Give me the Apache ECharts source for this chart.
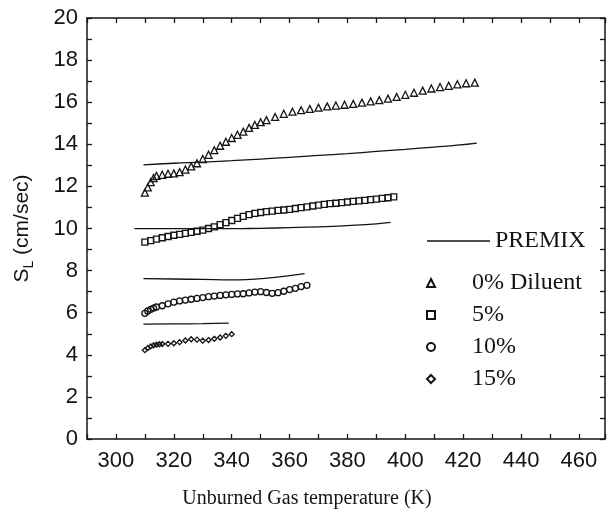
<!DOCTYPE html>
<html>
<head>
<meta charset="utf-8">
<script src="https://cdn.jsdelivr.net/npm/echarts@6/dist/echarts.min.js"></script>
<style>html,body{margin:0;padding:0;background:#fff}#c{width:608px;height:519px}</style>
</head>
<body>
<div id="c"></div>
<script>
// PREMIX (solid lines)
var premix0X = [309.5, 320, 330, 340, 350, 360, 370, 380, 390, 400, 410, 418, 424.7];
var premix0Y = [13.02, 13.1, 13.15, 13.22, 13.3, 13.38, 13.47, 13.56, 13.66, 13.76, 13.87, 13.96, 14.06];
var premix5X = [306.4, 320, 330, 340, 350, 360, 370, 380, 390, 394.9];
var premix5Y = [9.99, 9.99, 9.99, 9.99, 10.01, 10.04, 10.08, 10.14, 10.22, 10.29];
var premix10X = [309.5, 320, 330, 340, 345, 350, 355, 360, 365.2];
var premix10Y = [7.62, 7.6, 7.58, 7.56, 7.57, 7.62, 7.68, 7.76, 7.86];
var premix15X = [309.5, 320, 330, 339];
var premix15Y = [5.46, 5.47, 5.48, 5.5];

// 0% Diluent (triangles)
var d0X = [310, 311, 312, 313, 314, 316, 318, 320, 322, 324, 326, 328, 330, 332, 334, 336, 338, 340, 342, 344, 346, 348, 350, 352, 355, 358, 361, 364, 367, 370, 373, 376, 379, 382, 385, 388, 391, 394, 397, 400, 403, 406, 409, 412, 415, 418, 421, 424];
var d0Y = [11.7, 11.95, 12.2, 12.4, 12.5, 12.55, 12.6, 12.62, 12.68, 12.8, 12.95, 13.1, 13.3, 13.5, 13.72, 13.93, 14.12, 14.3, 14.45, 14.6, 14.78, 14.92, 15.05, 15.15, 15.3, 15.45, 15.55, 15.62, 15.68, 15.74, 15.8, 15.84, 15.88, 15.92, 15.98, 16.04, 16.1, 16.17, 16.25, 16.35, 16.45, 16.55, 16.65, 16.72, 16.78, 16.85, 16.9, 16.93];
// 5% (squares)
var d5X = [310, 312, 314, 316, 318, 320, 322, 324, 326, 328, 330, 332, 334, 336, 338, 340, 342, 344, 346, 348, 350, 352, 354, 356, 358, 360, 362, 364, 366, 368, 370, 372, 374, 376, 378, 380, 382, 384, 386, 388, 390, 392, 394, 396];
var d5Y = [9.35, 9.42, 9.5, 9.56, 9.62, 9.68, 9.72, 9.77, 9.82, 9.87, 9.92, 10.0, 10.08, 10.18, 10.28, 10.38, 10.48, 10.58, 10.66, 10.72, 10.76, 10.8, 10.83, 10.86, 10.88, 10.91, 10.95, 10.99, 11.03, 11.07, 11.11, 11.15, 11.18, 11.2, 11.23, 11.26, 11.29, 11.31, 11.34, 11.37, 11.4, 11.43, 11.46, 11.5];
// 10% (circles)
var d10X = [310, 311, 312, 313, 314, 316, 318, 320, 322, 324, 326, 328, 330, 332, 334, 336, 338, 340, 342, 344, 346, 348, 350, 352, 354, 356, 358, 360, 362, 364, 366];
var d10Y = [5.97, 6.08, 6.16, 6.22, 6.27, 6.33, 6.42, 6.5, 6.56, 6.6, 6.64, 6.68, 6.72, 6.76, 6.79, 6.82, 6.85, 6.87, 6.89, 6.9, 6.94, 6.98, 7.0, 6.96, 6.92, 6.95, 7.02, 7.1, 7.16, 7.24, 7.3];
// 15% (small diamonds)
var d15X = [310, 311, 312, 313, 314, 315, 316, 318, 320, 322, 324, 326, 328, 330, 332, 334, 336, 338, 340];
var d15Y = [4.22, 4.32, 4.4, 4.45, 4.48, 4.5, 4.51, 4.52, 4.55, 4.6, 4.68, 4.74, 4.72, 4.67, 4.7, 4.76, 4.82, 4.9, 4.98];

var xTicks = [300, 320, 340, 360, 380, 400, 420, 440, 460];
var yTicks = [0, 2, 4, 6, 8, 10, 12, 14, 16, 18, 20];

function zip(a, b) { return a.map(function (v, i) { return [v, b[i]]; }); }

var ink = '#141414';
var chart = echarts.init(document.getElementById('c'), null, {renderer: 'canvas'});

function lineSeries(xs, ys) {
  return {
    name: 'PREMIX', type: 'line', data: zip(xs, ys), symbol: 'none', smooth: true,
    lineStyle: {color: ink, width: 1.3}, itemStyle: {color: ink}, z: 3, silent: true
  };
}
function scatterSeries(name, xs, ys, symbol, size) {
  return {
    name: name, type: 'scatter', data: zip(xs, ys), symbol: symbol, symbolSize: size,
    itemStyle: {color: 'rgba(255,255,255,0)', borderColor: ink, borderWidth: 1.3, opacity: 1},
    z: 4, silent: true
  };
}

var axisCommonX = {
  type: 'value', min: 290, max: 469, interval: 10,
  axisLine: {show: true, onZero: false, lineStyle: {color: ink, width: 1.5}},
  axisTick: {show: true, inside: true, length: 5, lineStyle: {color: ink, width: 1.3}},
  splitLine: {show: false}
};
var axisCommonY = {
  type: 'value', min: 0, max: 20, interval: 1,
  axisLine: {show: true, onZero: false, lineStyle: {color: ink, width: 1.5}},
  axisTick: {show: true, inside: true, length: 5, lineStyle: {color: ink, width: 1.3}},
  splitLine: {show: false}
};

chart.setOption({
  animation: false,
  backgroundColor: '#fff',
  grid: {left: 84, right: 2, top: 18, bottom: 80, containLabel: false},
  xAxis: [
    Object.assign({}, axisCommonX, {
      position: 'bottom',
      axisLabel: {
        formatter: function (v) { return xTicks.indexOf(v) >= 0 ? String(v) : ''; },
        fontSize: 22, fontFamily: 'Liberation Sans', color: ink, margin: 11
      },
      name: 'Unburned Gas temperature (K)', nameLocation: 'middle', nameGap: 50,
      nameTextStyle: {fontSize: 20, fontFamily: 'Liberation Serif', color: ink, padding: [0, 78, 0, 0]}
    }),
    Object.assign({}, axisCommonX, {position: 'top', axisLabel: {show: false}})
  ],
  yAxis: [
    Object.assign({}, axisCommonY, {
      position: 'left',
      axisLabel: {
        formatter: function (v) { return yTicks.indexOf(v) >= 0 ? String(v) : ''; },
        fontSize: 22, fontFamily: 'Liberation Sans', color: ink, margin: 9
      },
      name: '{a|S}{b|L}{a| (cm/sec)}', nameLocation: 'middle', nameGap: 52, nameRotate: 90,
      nameTextStyle: {
        color: ink,
        rich: {
          a: {fontSize: 21, fontFamily: 'Liberation Sans', color: ink, lineHeight: 26},
          b: {fontSize: 14, fontFamily: 'Liberation Sans', color: ink, lineHeight: 26, padding: [14, 0, 0, 0]}
        }
      }
    }),
    Object.assign({}, axisCommonY, {position: 'right', axisLabel: {show: false}})
  ],
  legend: [
    {
      data: [{name: 'PREMIX', icon: 'rect'}], orient: 'vertical', left: 427, top: 229, padding: 0,
      itemWidth: 63, itemHeight: 1.4, itemGap: 8,
      itemStyle: {color: ink},
      textStyle: {fontSize: 24, fontFamily: 'Liberation Serif', color: ink},
      selectedMode: false
    },
    {
      data: ['0% Diluent', '5%', '10%', '15%'], orient: 'vertical', left: 426, top: 271, padding: 0,
      itemWidth: 8, itemHeight: 8, itemGap: 8,
      textStyle: {fontSize: 24, fontFamily: 'Liberation Serif', color: ink, padding: [0, 0, 0, 32]},
      selectedMode: false
    }
  ],
  series: [
    lineSeries(premix0X, premix0Y),
    lineSeries(premix5X, premix5Y),
    lineSeries(premix10X, premix10Y),
    lineSeries(premix15X, premix15Y),
    scatterSeries('0% Diluent', d0X, d0Y, 'triangle', 7),
    scatterSeries('5%', d5X, d5Y, 'rect', 6),
    scatterSeries('10%', d10X, d10Y, 'circle', 6),
    scatterSeries('15%', d15X, d15Y, 'diamond', 5)
  ]
});
</script>
</body>
</html>
